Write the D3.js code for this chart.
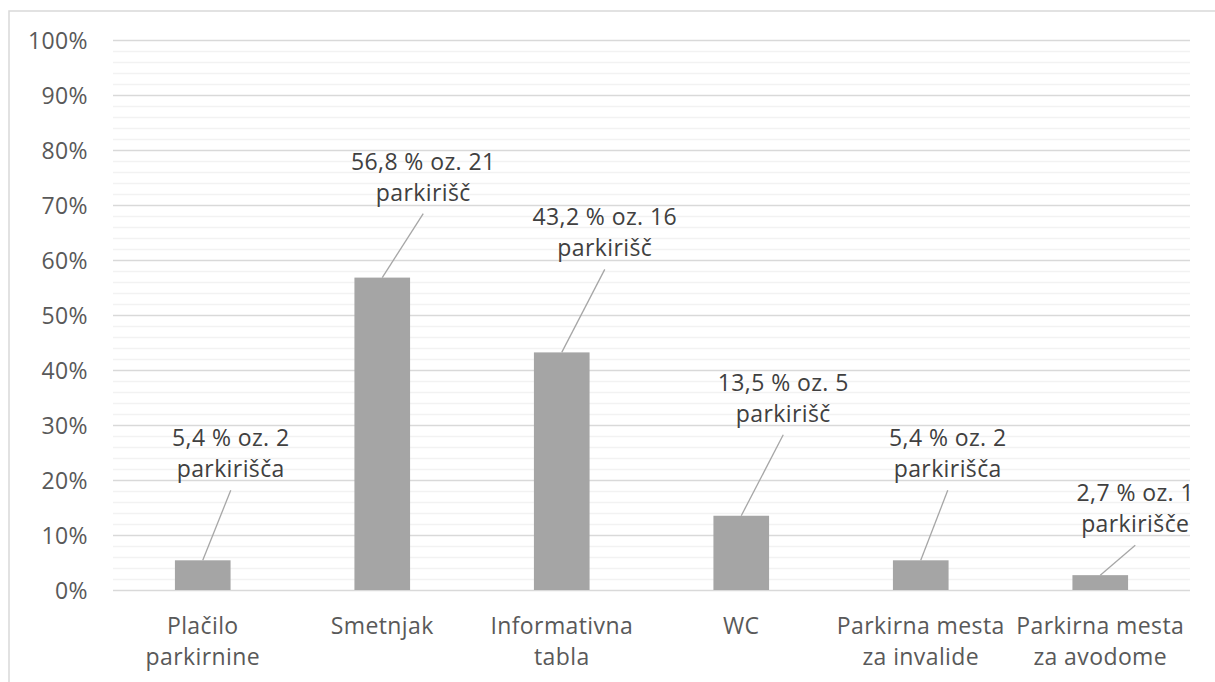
<!DOCTYPE html>
<html>
<head>
<meta charset="utf-8">
<script src="https://cdn.jsdelivr.net/npm/d3@7"></script>
<style>
  html, body { margin: 0; padding: 0; background: #fff; }
  svg { display: block; font-family: "Open Sans", "Noto Sans", sans-serif; }
  .lbl { font-size: 23px; letter-spacing: 0.4px; font-family: "Open Sans", sans-serif; }
</style>
</head>
<body>
<svg id="chart" width="1215" height="682"></svg>
<script>
// ---- data ----
const categories = ["Plačilo\nparkirnine", "Smetnjak", "Informativna\ntabla", "WC", "Parkirna mesta\nza invalide", "Parkirna mesta\nza avodome"];
const percentages = [5.4, 56.8, 43.2, 13.5, 5.4, 2.7];
const counts = [2, 21, 16, 5, 2, 1];
const countWords = ["parkirišča", "parkirišč", "parkirišč", "parkirišč", "parkirišča", "parkirišče"];
const yTicks = [0, 10, 20, 30, 40, 50, 60, 70, 80, 90, 100];
// manual label placement (pixel offsets from bar top, as dragged in the original)
const labelOffsets = [[28, -122], [41, -116], [43, -135], [42, -133], [27, -122], [35, -82]];

// ---- layout ----
const svg = d3.select("#chart");
const W = 1215, H = 682;
const plot = { left: 113, right: 1190, top: 40, bottom: 590 };

svg.append("rect").attr("x", 9).attr("y", 11).attr("width", W + 20).attr("height", H + 20)
  .attr("fill", "#fff").attr("stroke", "#d9d9d9").attr("stroke-width", 1.5);

const x = d3.scaleBand().domain(d3.range(categories.length)).range([plot.left, plot.right]).paddingInner(0).paddingOuter(0);
const y = d3.scaleLinear().domain([0, 100]).range([plot.bottom, plot.top]);
const barW = x.bandwidth() * 0.31;

// minor grid
const minor = d3.range(0, 101, 2).filter(v => v % 10 !== 0);
svg.append("g").selectAll("line").data(minor).join("line")
  .attr("x1", plot.left).attr("x2", plot.right)
  .attr("y1", d => Math.round(y(d)) + 0.5).attr("y2", d => Math.round(y(d)) + 0.5)
  .attr("stroke", "#f2f2f2").attr("stroke-width", 1.3);

// major grid
svg.append("g").selectAll("line").data(yTicks).join("line")
  .attr("x1", plot.left).attr("x2", plot.right)
  .attr("y1", d => Math.round(y(d)) + 0.5).attr("y2", d => Math.round(y(d)) + 0.5)
  .attr("stroke", "#d9d9d9").attr("stroke-width", 1.3);

// y axis labels
const yAxis = d3.axisLeft(y).tickValues(yTicks).tickFormat(d => d + "%").tickSize(0).tickPadding(0);
const gy = svg.append("g").attr("transform", `translate(88,0)`).call(yAxis);
gy.select(".domain").remove();
gy.attr("font-size", null).attr("font-family", null);
gy.selectAll("text").attr("class", "lbl").attr("fill", "#595959").attr("dy", "0.35em");

// bars
svg.append("g").selectAll("rect").data(percentages).join("rect")
  .attr("x", (d, i) => x(i) + (x.bandwidth() - barW) / 2)
  .attr("width", barW)
  .attr("y", d => y(d))
  .attr("height", d => y(0) - y(d))
  .attr("fill", "#a5a5a5");

// x labels
const xAxis = d3.axisBottom(x).tickSize(0).tickFormat("");
const gx = svg.append("g").attr("transform", `translate(0,${plot.bottom})`).call(xAxis);
gx.select(".domain").remove();
gx.attr("font-size", null).attr("font-family", null);
gx.selectAll(".tick").each(function(d) {
  const lines = categories[d].split("\n");
  const t = d3.select(this).append("text").attr("class", "lbl")
    .attr("fill", "#595959").attr("text-anchor", "middle");
  lines.forEach((ln, k) => t.append("tspan").attr("x", 0).attr("y", 36 + k * 31).attr("dy", "0.35em").text(ln));
});

// data labels with leader lines
const lab = svg.append("g");
percentages.forEach((v, i) => {
  const bx = x(i) + x.bandwidth() / 2, by = y(v);
  const [dx, dy] = labelOffsets[i];
  const cx = bx + dx, cy = by + dy;
  lab.append("line").attr("x1", cx).attr("y1", cy + 52).attr("x2", bx).attr("y2", by)
    .attr("stroke", "#a6a6a6").attr("stroke-width", 1.3);
  const t = lab.append("text").attr("class", "lbl").attr("fill", "#404040").attr("text-anchor", "middle");
  const line1 = d3.format(".1f")(v).replace(".", ",") + " % oz. " + counts[i];
  [line1, countWords[i]].forEach((ln, k) => t.append("tspan").attr("x", cx).attr("y", cy + k * 31).attr("dy", "0.35em").text(ln));
});
</script>
</body>
</html>
